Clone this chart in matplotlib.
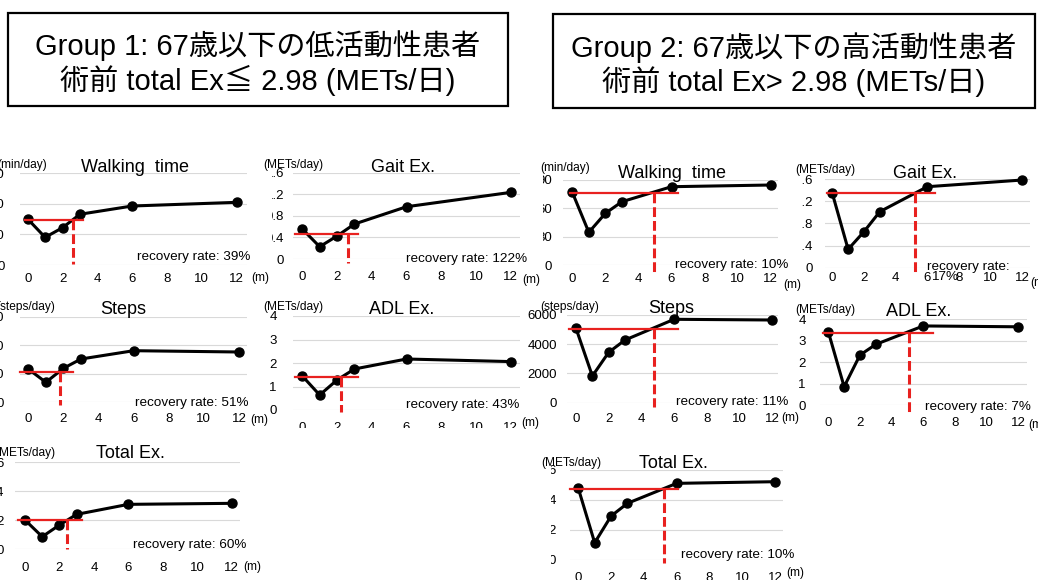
import matplotlib

matplotlib.use("Agg")

import matplotlib.pyplot as plt
from matplotlib.patches import Rectangle
from matplotlib.transforms import Bbox, TransformedBbox

plt.rcParams["font.family"] = ["Liberation Sans", "Noto Sans CJK JP"]

W, H = 1038, 580
RED = "#e8211f"

# --- data ---
months = [0, 1, 2, 3, 6, 12]

group_titles = [
    "Group 1: 67歳以下の低活動性患者\n術前 total Ex≦ 2.98 (METs/日)",
    "Group 2: 67歳以下の高活動性患者\n術前 total Ex> 2.98 (METs/日)",
]

panel_titles = [
    "Walking  time", "Gait Ex.", "Walking  time", "Gait Ex.",
    "Steps", "ADL Ex.", "Steps", "ADL Ex.",
    "Total Ex.", "Total Ex.",
]
units = [
    "(min/day)", "(METs/day)", "(min/day)", "(METs/day)",
    "(steps/day)", "(METs/day)", "(steps/day)", "(METs/day)",
    "(METs/day)", "(METs/day)",
]
rates = ["39%", "122%", "10%", "17%", "51%", "43%", "11%", "7%", "60%", "10%"]

g1_walking = [30.1, 18.1, 24.4, 33.2, 38.6, 41.0]
g1_gait = [0.556, 0.228, 0.426, 0.648, 0.969, 1.235]
g2_walking = [77.0, 34.6, 54.7, 67.0, 82.9, 84.7]
g2_gait = [1.347, 0.333, 0.652, 1.014, 1.466, 1.587]
g1_steps = [2334, 1402, 2383, 3035, 3617, 3526]
g1_adl = [1.447, 0.638, 1.277, 1.745, 2.17, 2.06]
g2_steps = [5090, 1827, 3448, 4290, 5706, 5658]
g2_adl = [3.42, 0.855, 2.33, 2.83, 3.69, 3.65]
g1_total = [2.02, 0.869, 1.676, 2.41, 3.10, 3.17]
g2_total = [4.78, 1.15, 2.93, 3.78, 5.11, 5.22]

series = [
    g1_walking, g1_gait, g2_walking, g2_gait,
    g1_steps, g1_adl, g2_steps, g2_adl,
    g1_total, g2_total,
]

# y axis: (max, step)
y_scales = [
    (60, 20), (1.6, 0.4), (90, 30), (1.6, 0.4),
    (6000, 2000), (4, 1), (6000, 2000), (4, 1),
    (6, 2), (6, 2),
]

# red reference: pre-op level and the month it is regained
red_levels = [29.6, 0.457, 76.6, 1.347, 2103, 1.42, 5022, 3.35, 2.02, 4.71]
red_months = [2.62, 2.65, 4.94, 5.22, 1.81, 2.23, 4.79, 5.12, 2.46, 5.23]

# --- layout in pixels ---
# p0, p12: x of month 0 / 12; gl, gr: grid left/right; yt, yb: top/bottom grid
layout = [
    dict(p0=27.7, p12=236.7, gl=20, gr=247, yt=173.3, yb=265),
    dict(p0=302.3, p12=510.7, gl=293, gr=520, yt=172.7, yb=259),
    dict(p0=572.3, p12=770.7, gl=563, gr=778, yt=180, yb=265),
    dict(p0=832.3, p12=1022.3, gl=825, gr=1030, yt=179.3, yb=267.7),
    dict(p0=28.3, p12=239, gl=20, gr=246.7, yt=316.7, yb=402.3),
    dict(p0=302.3, p12=510.7, gl=293, gr=520, yt=316, yb=410),
    dict(p0=576, p12=772.3, gl=566.7, gr=778.3, yt=315, yb=402.7),
    dict(p0=828.3, p12=1018.3, gl=820, gr=1026.7, yt=319.3, yb=405),
    dict(p0=25, p12=231.7, gl=15, gr=240, yt=462.3, yb=549.3),
    dict(p0=578.3, p12=775, gl=570, gr=783.3, yt=470, yb=560),
]
# red line extents (month) and dashed bottom (px)
red_spans = [
    (-0.15, 3.16, 264), (-0.42, 3.22, 263), (-0.15, 6.41, 272), (-0.35, 6.49, 273),
    (-0.47, 2.56, 405), (-0.42, 3.22, 411.7), (-0.41, 6.22, 406.7), (-0.32, 6.6, 411.7),
    (-0.39, 3.29, 549.3), (-0.51, 6.1, 563),
]
# title (cx, cy), unit (left x, y), rate (right x, y), (m) (left x, y)
text_pos = [
    ((135, 167), (-3, 165), (250, 257), (251, 278)),
    ((403, 167), (263, 165), (527, 259), (522, 280)),
    ((671.7, 173.3), (540, 168.3), (788.3, 265), (783, 285)),
    ((925, 173.3), (795, 170), (1008, 266.7), (1030, 283)),
    ((123.3, 310), (-4, 306.7), (248.3, 403.3), (250, 420)),
    ((401.7, 310), (263, 306.7), (519.3, 405), (521.7, 423.3)),
    ((671.7, 308.3), (540, 306.7), (788.3, 401.7), (781.7, 418.3)),
    ((918.3, 311.7), (795, 310), (1030.7, 407.3), (1028, 425)),
    ((130, 453.3), (-5, 453.3), (246.7, 545), (243, 566.7)),
    ((673.3, 463.3), (541.7, 463.3), (794, 555), (786.7, 573.3)),
]
# y tick label right edge, x tick label centre y, clip left x, clip bottom y
# (the slide pasted cropped chart images, so some labels are cut)
tick_pos = [
    (4.5, 278, None, None), (284, 276, 272, None),
    (552, 278.3, 543, None), (813, 276.7, 801.5, None),
    (4, 418.3, None, None), (276.7, 427, None, 428),
    (556.7, 418.3, None, None), (805.7, 421.7, None, None),
    (3.5, 566.7, None, None), (556, 577, 551, None),
]


def fx(x):
    return x / W


def fy(y):
    return 1 - y / H


figure = plt.figure(figsize=(W / 100, H / 100), dpi=100)

# group title boxes
for (x0, y0, x1, y1), text in zip(
    [(8, 13, 508, 106), (553, 14, 1035, 108)], group_titles
):
    figure.add_artist(
        Rectangle(
            (fx(x0), fy(y1)), fx(x1 - x0), (y1 - y0) / H,
            transform=figure.transFigure,
            facecolor="white", edgecolor="black", linewidth=1.6,
        )
    )
    figure.text(
        fx((x0 + x1) / 2), fy((y0 + y1) / 2 + 3.5), text,
        ha="center", va="center", fontsize=21, linespacing=1.15,
    )

for i, values in enumerate(series):
    lay = layout[i]
    ymax, ystep = y_scales[i]
    scale = (lay["p12"] - lay["p0"]) / 12

    axis = figure.add_axes(
        [
            fx(lay["gl"]),
            fy(lay["yb"]),
            fx(lay["gr"] - lay["gl"]),
            (lay["yb"] - lay["yt"]) / H,
        ]
    )
    axis.set_xlim(
        (lay["gl"] - lay["p0"]) / scale,
        (lay["gr"] - lay["p0"]) / scale,
    )
    axis.set_ylim(0, ymax)
    axis.patch.set_alpha(0)

    yticks = [ystep * k for k in range(int(round(ymax / ystep)) + 1)]
    axis.set_yticks(yticks)
    axis.set_yticklabels([f"{v:g}" for v in yticks])
    axis.set_xticks(range(0, 13, 2))

    for spine in axis.spines.values():
        spine.set_visible(False)
    axis.grid(axis="y", color="#d9d9d9", linewidth=0.8)

    ytick_right, xtick_y, clip_left, clip_bottom = tick_pos[i]
    axis.tick_params(
        axis="y", length=0, labelsize=9.5,
        pad=(lay["gl"] - ytick_right) * 0.72,
    )
    axis.tick_params(
        axis="x", length=0, labelsize=9.5,
        pad=(xtick_y - 4.8 - lay["yb"]) * 0.72,
    )

    if clip_left is not None:
        box = TransformedBbox(
            Bbox.from_extents(fx(clip_left), 0, 1, 1), figure.transFigure
        )
        for label in axis.get_yticklabels():
            label.set_clip_box(box)
            label.set_clip_on(True)
    if clip_bottom is not None:
        box = TransformedBbox(
            Bbox.from_extents(0, fy(clip_bottom), 1, 1), figure.transFigure
        )
        for label in axis.get_xticklabels():
            label.set_clip_box(box)
            label.set_clip_on(True)

    axis.plot(
        months, values,
        color="black", linewidth=2.2,
        marker="o", markersize=6.5,
        clip_on=False, zorder=3,
    )

    # red guide lines
    x_start, x_end, dash_bottom = red_spans[i]
    level = red_levels[i]
    bottom_value = (lay["yb"] - dash_bottom) / (lay["yb"] - lay["yt"]) * ymax
    axis.plot(
        [x_start, x_end], [level, level],
        color=RED, linewidth=1.6, clip_on=False, zorder=4,
    )
    axis.plot(
        [red_months[i], red_months[i]], [level, bottom_value],
        color=RED, linewidth=2.2, linestyle=(0, (3.2, 1.3)),
        clip_on=False, zorder=4,
    )

    title_xy, unit_xy, rate_xy, month_xy = text_pos[i]
    figure.text(
        fx(title_xy[0]), fy(title_xy[1]), panel_titles[i],
        ha="center", va="center", fontsize=13,
    )
    figure.text(
        fx(unit_xy[0]), fy(unit_xy[1]), units[i],
        ha="left", va="center", fontsize=8.6,
    )
    if i == 3:
        # this label wraps onto the x tick row in the original
        figure.text(
            fx(926.7), fy(rate_xy[1]), "recovery rate:",
            ha="left", va="center", fontsize=9.7,
        )
        figure.text(
            fx(931), fy(276.7), rates[i],
            ha="left", va="center", fontsize=9.7,
        )
    else:
        figure.text(
            fx(rate_xy[0]), fy(rate_xy[1]), "recovery rate: " + rates[i],
            ha="right", va="center", fontsize=9.7,
        )
    figure.text(
        fx(month_xy[0]), fy(month_xy[1]), "(m)",
        ha="left", va="center", fontsize=8.6,
    )

figure.savefig("out.png", dpi=100)
plt.close(figure)
